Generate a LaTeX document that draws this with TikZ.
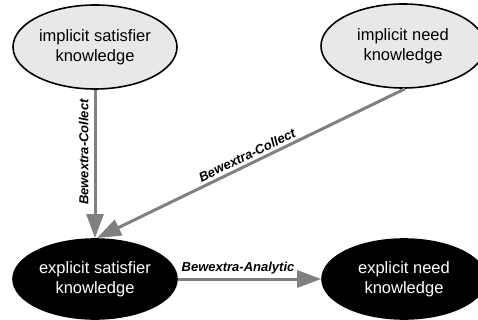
\documentclass[tikz,border=0pt]{standalone}
\usepackage{fontspec}
\setmainfont{Liberation Sans}
\usetikzlibrary{shapes.geometric,arrows.meta}
\tikzset{
  implicitnode/.style={ellipse, draw=black, line width=1.6pt, fill=gray!18, minimum width=164pt, minimum height=84pt, inner sep=0pt, align=center, font=\fontsize{16.5}{19.5}\selectfont},
  explicitnode/.style={ellipse, draw=black, line width=1.6pt, fill=black, text=white, minimum width=164pt, minimum height=80pt, inner sep=0pt, align=center, font=\fontsize{16.5}{19.5}\selectfont},
  flow/.style={draw=gray, line width=3pt, -{Triangle[length=24pt,width=17pt]}},
  flowlabel/.style={font=\fontsize{13}{15}\selectfont\bfseries\itshape, inner sep=2pt}
}
\begin{document}
\begin{tikzpicture}[x=1pt,y=-1pt]
\useasboundingbox (0,0) rectangle (478,320);
\node[implicitnode] (is) at (95,47) {implicit satisfier\\knowledge};
\node[implicitnode] (in) at (403,46) {implicit need\\knowledge};
\node[explicitnode] (es) at (95,279) {explicit satisfier\\knowledge};
\node[explicitnode] (en) at (404,279) {explicit need\\knowledge};
\coordinate (tip) at (95,238);
\coordinate (tip2) at (97,238);
\draw[flow] (is) -- node[flowlabel, rotate=90, above=3pt, pos=0.42] {Bewextra-Collect} (tip);
\draw[flow] ([xshift=2pt]in.south) -- node[flowlabel, sloped, above=1pt, pos=0.5] {Bewextra-Collect} (tip2);
\draw[flow] (es) -- node[flowlabel, above=1pt, pos=0.42] {Bewextra-Analytic} (en);
\end{tikzpicture}
\end{document}
